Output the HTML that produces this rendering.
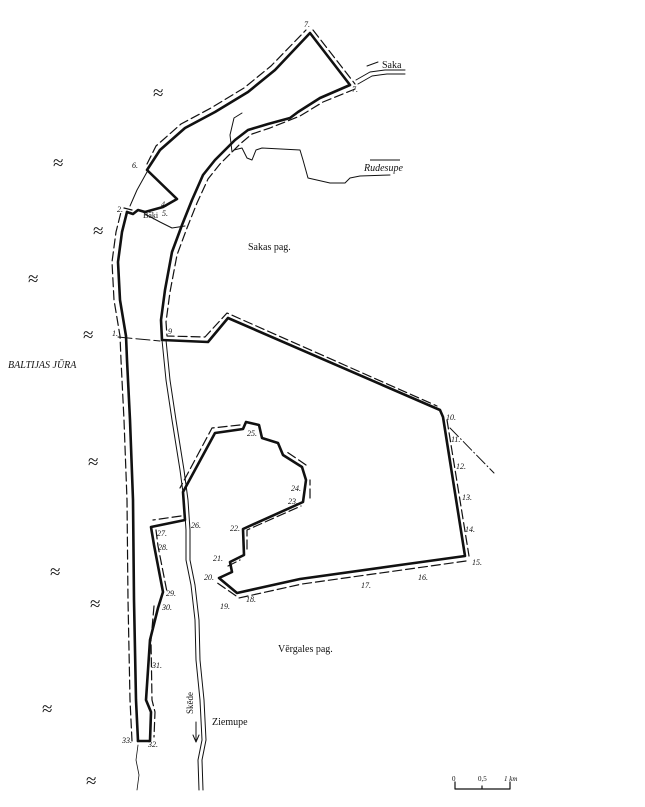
<!DOCTYPE html>
<html><head><meta charset="utf-8"><style>
html,body{margin:0;padding:0;background:#fff;}
svg{display:block;}
text{font-family:"Liberation Serif",serif;fill:#111;}
.n{font-size:8px;font-style:italic;}
</style></head><body>
<svg width="645" height="807" viewBox="0 0 645 807" xmlns="http://www.w3.org/2000/svg">
<g fill="none" stroke="#111" stroke-linejoin="round" stroke-linecap="round">
<path d="M138,741 L136,700 L134,600 L133,500 L130,420 L127,360 L126,336 L120,300 L118,262 L122,232 L127,212" stroke-width="2.6"/>
<path d="M132,741 L130,700 L128,600 L127,500 L124,420 L121,360 L120,336 L114,300 L112,262 L116,232 L121,212" stroke-width="1.2" stroke-dasharray="9,4"/>
<path d="M127,212 L133,214 L138,210 L145,212 L163,207 L177,199 L147,170 L160,150 L185,128 L215,112 L248,92 L275,70 L310,33 L350,85 L320,98 L298,112 L290,118 L268,124 L248,130 L235,140 L215,160 L203,175 L192,200 L182,225 L172,252 L165,290 L161,320 L162,340 L208,342 L228,318 L440,410 L443,417 L465,556 L400,565 L300,579 L237,593 L219,578 L232,572 L230,562 L244,555 L243,529 L303,502 L306,480 L302,467 L283,455 L278,443 L262,438 L259,425 L246,422 L243,429 L215,433 L183,492 L185,520 L151,527 L154,545 L163,592 L158,608 L150,640 L148,670 L146,700 L151,712 L150,741 L138,741" stroke-width="2.6"/>
<path d="M124,208 L132,210 M147,164 L156,146 L181,124 L211,108 L244,88 L271,66 L306,30 M313,30 L355,84 M355,89 L323,102 L300,116 L270,128 L252,134 L240,144 L220,164 L208,179 L197,203 L187,228 L177,255 L170,292 L166,322 L167,336 L205,337 L227,313 L437,406 M447,420 L469,556 M466,561 L402,570 L302,584 L239,598 L216,582 M228,566 L240,560 M247,549 L247,530 L301,506 M310,498 L310,480 M306,465 L287,452 M240,425 L212,428 L180,488 M181,516 L153,520 M156,530 L158,546 L167,592 M154,606 L151,640 L152,700 L155,712 L154,737" stroke-width="1.2" stroke-dasharray="9,4"/>
<path d="M118,337 L160,341" stroke-width="1" stroke-dasharray="14,4"/>
<path d="M147,172 L137,190 L130,206" stroke-width="1"/>
<path d="M145,214 L160,222 L172,228 L185,226" stroke-width="1"/>
<path d="M162,340 L166,380 L172,420 L180,470 L184,500 L186,530 L186,560 L191,585 L195,620 L196,660 L200,700 L202,740 L198,760 L199,790" stroke-width="1"/>
<path d="M166,340 L170,380 L176,420 L184,470 L188,500 L190,530 L190,560 L195,585 L199,620 L200,660 L204,700 L206,740 L202,760 L203,790" stroke-width="1"/>
<path d="M138,745 L136,760 L139,775 L137,790" stroke-width="0.8"/>
<path d="M356,80 L370,72 L385,70 L405,70" stroke-width="1"/>
<path d="M358,84 L372,76 L387,74 L405,74" stroke-width="1"/>
<path d="M367,66 L378,62" stroke-width="1"/>
<path d="M232,152 L230,135 L234,118 L242,113 M234,150 L242,148 L247,158 L252,160 L256,150 L262,148 L300,150 L303,160 L308,178 L330,183 L345,183 L350,178 L360,176 L390,175" stroke-width="1"/>
<path d="M450,428 L494,473" stroke-width="1" stroke-dasharray="12,3,1,3"/>
<path d="M196,722 L196,740" stroke-width="1"/>
<path d="M193,735 L196,742 L199,735" stroke-width="1"/>
<path d="M455,782 L455,789 L510,789 L510,782 M482,786 L482,789" stroke-width="1.2"/>
</g>
<g font-size="19" fill="#222">
<text x="153" y="99">≈</text><text x="53" y="169">≈</text><text x="93" y="237">≈</text>
<text x="28" y="285">≈</text><text x="83" y="341">≈</text><text x="88" y="468">≈</text>
<text x="50" y="578">≈</text><text x="90" y="610">≈</text>
<text x="42" y="715">≈</text><text x="86" y="787">≈</text>
</g>
<text x="8" y="368" font-size="10" font-style="italic">BALTIJAS JŪRA</text>
<text x="248" y="250" font-size="10">Sakas pag.</text>
<text x="278" y="652" font-size="10">Vērgales pag.</text>
<text x="212" y="725" font-size="10">Ziemupe</text>
<text x="382" y="68" font-size="10">Saka</text>
<text x="364" y="171" font-size="10" font-style="italic">Rudesupe</text>
<path d="M370,160 L400,160" stroke="#111" stroke-width="1"/>
<text x="0" y="0" font-size="9" transform="translate(193,714) rotate(-90)">Skēde</text>
<text x="143" y="218" font-size="8">Bāķi</text>
<text x="452" y="781" font-size="7">0</text><text x="478" y="781" font-size="7">0,5</text><text x="504" y="781" font-size="7" font-style="italic">1 km</text>
<g class="n">
<text x="304" y="27">7.</text><text x="352" y="92">7.</text><text x="132" y="168">6.</text>
<text x="117" y="212">2.</text><text x="112" y="336">1.</text><text x="168" y="334">9</text>
<text x="446" y="420">10.</text><text x="451" y="442">11.</text><text x="456" y="469">12.</text>
<text x="462" y="500">13.</text><text x="465" y="532">14.</text><text x="472" y="565">15.</text>
<text x="418" y="580">16.</text><text x="361" y="588">17.</text><text x="246" y="602">18.</text>
<text x="220" y="609">19.</text><text x="204" y="580">20.</text><text x="213" y="561">21.</text>
<text x="230" y="531">22.</text><text x="288" y="504">23.</text><text x="291" y="491">24.</text>
<text x="247" y="436">25.</text><text x="191" y="528">26.</text><text x="157" y="536">27.</text>
<text x="158" y="550">28.</text><text x="166" y="596">29.</text><text x="162" y="610">30.</text>
<text x="152" y="668">31.</text><text x="148" y="747">32.</text><text x="122" y="743">33.</text>
<text x="162" y="216">5.</text><text x="161" y="207">4.</text>
</g>
</svg>
</body></html>
